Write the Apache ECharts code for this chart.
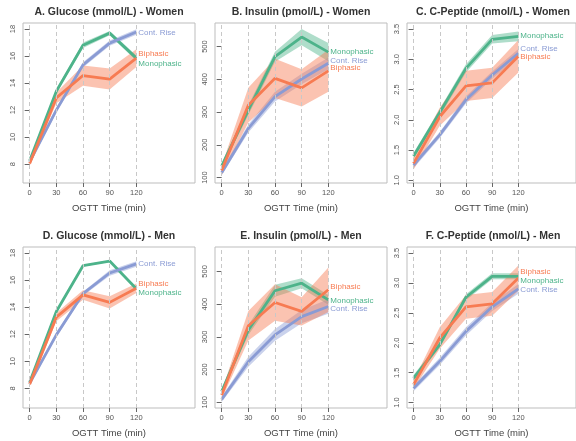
<!DOCTYPE html>
<html>
<head>
<meta charset="utf-8">
<script src="https://cdn.jsdelivr.net/npm/echarts@6/dist/echarts.min.js"></script>
<style>
  html, body { margin: 0; padding: 0; background: #fff; }
  #chart { width: 576px; height: 441px; }
</style>
</head>
<body>
<div id="chart"></div>
<script>
// OGTT time points and group names
const timePoints = [0, 30, 60, 90, 120];
const groupNames = ['Monophasic', 'Cont. Rise', 'Biphasic'];

// y tick labels
const glucoseTicks = [8, 10, 12, 14, 16, 18];
const insulinTicks = [100, 200, 300, 400, 500];
const cpeptideTicks = [1.0, 1.5, 2.0, 2.5, 3.0, 3.5];

// A. Glucose - Women (mean and CI half-width)
const gluWMono = [8.25, 13.4, 16.8, 17.7, 15.85];
const gluWMonoCI = [0.15, 0.15, 0.2, 0.15, 0.2];
const gluWCont = [8.17, 12.0, 15.35, 16.96, 17.78];
const gluWContCI = [0.2, 0.2, 0.2, 0.2, 0.2];
const gluWBi = [8.05, 12.9, 14.56, 14.3, 15.85];
const gluWBiCI = [0.2, 0.4, 0.75, 0.78, 0.65];

// B. Insulin - Women
const insWMono = [135, 306, 469, 529, 483];
const insWMonoCI = [8, 15, 15, 25, 28];
const insWCont = [115, 250, 347, 401, 449];
const insWContCI = [8, 12, 15, 16, 18];
const insWBi = [122, 321, 403, 374, 426];
const insWBiCI = [15, 53, 60, 57, 64];

// C. C-Peptide - Women
const cpWMono = [1.4, 2.12, 2.85, 3.33, 3.38];
const cpWMonoCI = [0.05, 0.06, 0.07, 0.07, 0.08];
const cpWCont = [1.25, 1.75, 2.33, 2.74, 3.1];
const cpWContCI = [0.05, 0.05, 0.06, 0.06, 0.07];
const cpWBi = [1.28, 2.05, 2.56, 2.61, 3.05];
const cpWBiCI = [0.1, 0.15, 0.25, 0.25, 0.27];

// D. Glucose - Men
const gluMMono = [8.45, 13.68, 17.06, 17.4, 15.36];
const gluMMonoCI = [0.06, 0.06, 0.06, 0.06, 0.06];
const gluMCont = [8.37, 11.95, 14.99, 16.52, 17.19];
const gluMContCI = [0.15, 0.15, 0.15, 0.2, 0.2];
const gluMBi = [8.3, 13.26, 14.9, 14.35, 15.4];
const gluMBiCI = [0.15, 0.3, 0.35, 0.45, 0.35];

// E. Insulin - Men
const insMMono = [133, 321, 441, 464, 413];
const insMMonoCI = [8, 15, 18, 15, 15];
const insMCont = [109, 224, 306, 362, 393];
const insMContCI = [8, 15, 18, 20, 22];
const insMBi = [122, 334, 405, 378, 444];
const insMBiCI = [12, 45, 56, 43, 68];

// F. C-Peptide - Men
const cpMMono = [1.41, 1.97, 2.76, 3.11, 3.11];
const cpMMonoCI = [0.05, 0.05, 0.05, 0.05, 0.05];
const cpMCont = [1.24, 1.69, 2.19, 2.6, 2.9];
const cpMContCI = [0.05, 0.06, 0.07, 0.07, 0.08];
const cpMBi = [1.3, 2.08, 2.6, 2.65, 3.08];
const cpMBiCI = [0.07, 0.18, 0.2, 0.2, 0.21];

const colors = ['#4db38a', '#8a9bd4', '#f77b52'];
const font = 'Liberation Sans, Arial, Helvetica, sans-serif';

const panels = [
  { title: 'A. Glucose (mmol/L) - Women', ticks: glucoseTicks, dec: 0, yMin: 6.6, yMax: 18.45,
    series: [[gluWMono, gluWMonoCI], [gluWCont, gluWContCI], [gluWBi, gluWBiCI]], labelDy: [5.5, 0.5, -4.6] },
  { title: 'B. Insulin (pmol/L) - Women', ticks: insulinTicks, dec: 0, yMin: 83.5, yMax: 572,
    series: [[insWMono, insWMonoCI], [insWCont, insWContCI], [insWBi, insWBiCI]], labelDy: [0, -2.9, -2.8] },
  { title: 'C. C-Peptide (nmol/L) - Women', ticks: cpeptideTicks, dec: 1, yMin: 0.955, yMax: 3.6,
    series: [[cpWMono, cpWMonoCI], [cpWCont, cpWContCI], [cpWBi, cpWBiCI]], labelDy: [-0.6, -4.8, 0.6] },
  { title: 'D. Glucose (mmol/L) - Men', ticks: glucoseTicks, dec: 0, yMin: 6.55, yMax: 18.44,
    series: [[gluMMono, gluMMonoCI], [gluMCont, gluMContCI], [gluMBi, gluMBiCI]], labelDy: [4, -0.5, -4.7] },
  { title: 'E. Insulin (pmol/L) - Men', ticks: insulinTicks, dec: 0, yMin: 82.6, yMax: 574.7,
    series: [[insMMono, insMMonoCI], [insMCont, insMContCI], [insMBi, insMBiCI]], labelDy: [1, 2.3, -3.3] },
  { title: 'F. C-Peptide (nmol/L) - Men', ticks: cpeptideTicks, dec: 1, yMin: 0.91, yMax: 3.6,
    series: [[cpMMono, cpMMonoCI], [cpMCont, cpMContCI], [cpMBi, cpMBiCI]], labelDy: [4.2, 0.6, -6] }
];

// confidence band drawn as one polygon through the axis scales
function bandRenderer(color) {
  return function (params, api) {
    if (params.dataIndex !== 0) return null;
    const n = params.dataInsideLength;
    const upper = [], lower = [];
    for (let k = 0; k < n; k++) {
      upper.push(api.coord([api.value(0, k), api.value(2, k)]));
      lower.push(api.coord([api.value(0, k), api.value(1, k)]));
    }
    return {
      type: 'polygon',
      shape: { points: upper.concat(lower.reverse()) },
      style: { fill: color, opacity: 0.45 },
      silent: true
    };
  };
}

const grids = [], xAxes = [], yAxes = [], titles = [], series = [];

panels.forEach(function (p, i) {
  const col = i % 3, row = Math.floor(i / 3);
  const left = col * 192 + 23;
  const top = row === 0 ? 23 : 247;
  const height = row === 0 ? 160 : 161;
  grids.push({ left: left, top: top, width: 172, height: height, show: true,
    borderColor: '#bdbdbd', borderWidth: 1, containLabel: false });
  titles.push({ text: p.title, left: left + 86, top: row === 0 ? 7 : 231, textAlign: 'center', padding: 0,
    textStyle: { fontFamily: font, fontSize: 10.5, fontWeight: 'bold', color: '#333' } });
  xAxes.push({
    type: 'value', gridIndex: i, min: -7.5, max: 186,
    name: 'OGTT Time (min)', nameLocation: 'middle', nameGap: 20,
    nameTextStyle: { fontFamily: font, fontSize: 9.5, color: '#444' },
    axisLine: { show: false },
    axisTick: { show: true, length: 4, customValues: timePoints, lineStyle: { color: '#666' } },
    axisLabel: { customValues: timePoints, margin: 6, fontFamily: font, fontSize: 7.5, color: '#555' },
    splitLine: { show: false }
  });
  yAxes.push({
    type: 'value', gridIndex: i, min: p.yMin, max: p.yMax,
    axisLine: { show: false },
    axisTick: { show: true, length: 5, customValues: p.ticks, lineStyle: { color: '#666' } },
    axisLabel: { customValues: p.ticks, rotate: 90, margin: 6, fontFamily: font, fontSize: 7.5, color: '#555',
      formatter: function (v) { return v.toFixed(p.dec); } },
    splitLine: { show: false }
  });

  // dashed verticals at the sampling times
  series.push({
    type: 'line', xAxisIndex: i, yAxisIndex: i, data: [], silent: true,
    markLine: { symbol: 'none', silent: true, label: { show: false },
      lineStyle: { color: '#c8c8c8', type: [4, 3], width: 1 },
      data: timePoints.map(function (t) { return { xAxis: t }; }) }
  });

  p.series.forEach(function (s, g) {
    const mean = s[0], ci = s[1];
    series.push({
      type: 'custom', xAxisIndex: i, yAxisIndex: i, silent: true,
      renderItem: bandRenderer(colors[g]),
      encode: { x: 0, y: [1, 2] },
      data: timePoints.map(function (t, k) { return [t, mean[k] - ci[k], mean[k] + ci[k]]; })
    });
    series.push({
      name: groupNames[g], type: 'line', xAxisIndex: i, yAxisIndex: i,
      data: timePoints.map(function (t, k) { return [t, mean[k]]; }),
      symbol: 'none', lineStyle: { color: colors[g], width: 2.8 }, itemStyle: { color: colors[g] },
      endLabel: { show: true, formatter: '{a}', distance: 2, offset: [0, p.labelDy[g]],
        fontFamily: font, fontSize: 8, color: colors[g] }
    });
  });
});

const chart = echarts.init(document.getElementById('chart'), null, { renderer: 'canvas' });
chart.setOption({
  animation: false,
  backgroundColor: '#fff',
  title: titles,
  grid: grids,
  xAxis: xAxes,
  yAxis: yAxes,
  series: series
});
</script>
</body>
</html>
